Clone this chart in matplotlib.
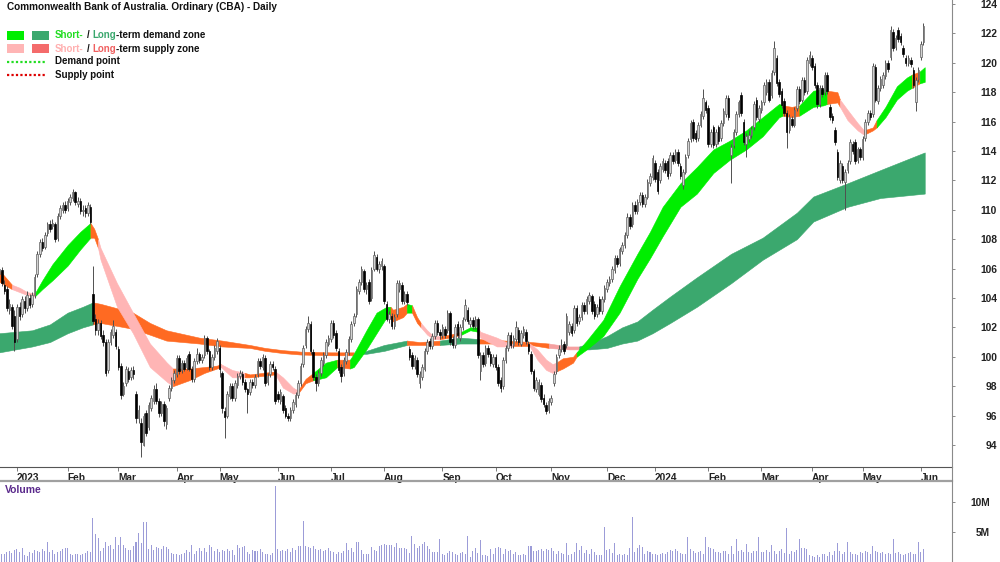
import numpy as np
import pandas as pd
import matplotlib
matplotlib.use("Agg")
import matplotlib.pyplot as plt
from matplotlib.lines import Line2D

plt.rcParams['font.family'] = ['Liberation Sans', 'DejaVu Sans']

# ---------------- data ----------------
title = "Commonwealth Bank of Australia. Ordinary (CBA) - Daily"
start_date, end_date = "2022-12-20", "2024-06-04"
asx_holidays = ["2022-12-26", "2022-12-27", "2023-01-02", "2023-01-26", "2023-04-07",
                "2023-04-10", "2023-04-25", "2023-06-12", "2023-12-25", "2023-12-26",
                "2024-01-01", "2024-01-26", "2024-03-29", "2024-04-01", "2024-04-25"]

opens = [105.6,105.9,104.9,104.6,103.2,103.4,102.8,101.2,103.4,102.9,
 103.8,103.3,104.0,103.6,104.2,105.6,107.0,107.8,107.5,108.4,
 109.0,108.9,109.0,108.1,109.6,110.0,110.3,110.1,110.5,110.8,
 111.2,110.4,110.6,109.9,110.1,109.8,110.2,104.3,102.6,101.8,
 102.3,101.5,101.0,99.1,101.0,101.5,101.7,100.5,99.4,97.5,
 98.2,99.0,98.6,99.1,97.5,95.8,95.5,94.0,96.2,95.2,
 96.5,97.0,97.8,97.0,96.2,96.8,95.4,97.2,97.9,98.4,
 98.8,99.9,99.1,99.6,99.3,100.2,99.2,98.5,99.7,100.2,
 99.8,100.1,101.3,100.4,99.3,100.0,100.4,100.6,98.9,96.3,
 96.0,97.3,98.0,97.2,98.1,98.7,98.8,98.3,97.8,97.6,
 98.3,98.1,98.8,99.7,99.3,99.9,98.3,98.8,99.5,99.2,
 97.5,97.0,97.3,96.5,96.0,95.8,96.4,96.8,97.4,98.2,
 99.5,100.8,101.9,102.2,100.3,98.6,98.2,98.9,99.6,100.1,
 100.9,101.2,102.3,101.6,100.4,99.3,98.9,99.7,100.3,101.2,
 102.3,102.9,104.5,105.1,105.8,104.6,105.1,104.0,106.0,106.8,
 106.0,106.2,106.2,103.6,102.6,102.8,102.1,102.9,104.6,104.9,
 103.8,104.3,100.5,100.1,99.4,99.8,98.2,98.6,99.2,100.4,
 101.1,100.7,101.4,102.3,101.7,101.5,101.9,101.8,103.0,101.2,
 100.8,102.2,101.3,102.0,102.6,103.2,102.2,102.5,102.1,102.6,
 99.0,100.1,99.6,100.6,100.2,99.5,100.0,99.3,98.4,98.0,
 99.8,100.6,101.5,100.8,101.2,101.8,100.9,101.5,101.7,100.9,
 100.2,99.0,97.8,97.5,98.1,97.2,96.7,96.4,96.9,98.2,
 99.0,100.1,100.5,100.9,100.8,101.7,102.1,101.8,103.3,102.4,
 102.7,103.5,103.1,103.8,104.1,103.6,102.9,103.9,103.1,103.9,
 104.6,105.0,105.3,105.9,106.7,106.4,107.2,107.6,108.3,109.5,
 109.0,110.3,109.9,110.5,111.0,110.4,110.9,111.8,112.2,113.2,
 112.6,112.0,112.8,113.2,113.3,112.5,113.7,113.4,113.9,113.0,
 111.7,112.6,113.7,114.8,116.0,115.2,114.9,115.8,116.4,117.3,
 116.9,114.5,115.6,114.5,115.6,114.9,115.9,116.5,117.6,113.7,
 114.4,115.3,116.5,117.8,116.0,114.5,114.8,115.1,115.6,117.5,
 116.2,116.8,117.3,118.0,118.7,117.8,119.4,120.3,118.7,118.1,
 117.4,116.6,115.4,116.2,115.8,116.9,118.2,117.5,118.8,118.1,
 120.0,120.3,119.8,118.5,117.2,118.3,118.0,119.2,117.0,116.4,
 115.4,113.9,112.0,113.0,111.9,112.7,113.3,114.5,114.6,113.4,
 114.1,113.6,114.9,116.0,116.6,116.5,119.7,117.4,118.3,118.5,
 119.1,120.0,120.4,122.1,121.1,122.2,121.8,121.0,120.3,120.0,
 120.2,119.5,117.3,118.9,120.4,121.4]

closes = [106.0,105.0,104.5,103.3,103.6,102.1,101.0,103.4,102.8,103.9,
 103.3,104.2,103.5,104.2,105.4,107.0,107.8,107.4,108.3,109.0,
 108.7,109.1,108.0,109.6,110.1,110.3,110.0,110.6,110.9,111.2,
 110.5,110.6,109.9,110.0,109.8,110.3,109.2,102.4,101.8,102.3,
 101.4,101.0,98.9,101.0,101.7,102.1,100.7,99.3,97.4,98.0,
 99.2,98.5,99.1,98.8,95.8,96.4,94.2,96.0,94.8,96.7,
 97.2,97.8,97.0,96.2,96.8,95.6,96.5,97.9,98.4,98.9,
 99.9,99.0,99.6,99.2,99.9,99.2,98.5,99.7,100.2,99.8,
 100.0,101.3,100.4,99.3,100.0,100.6,101.1,99.2,96.5,95.9,
 97.5,98.0,97.2,98.2,98.7,98.9,98.3,97.8,97.5,98.3,
 98.1,98.6,99.7,99.4,100.0,98.2,98.7,99.5,99.3,97.0,
 97.1,97.6,96.4,96.0,95.8,96.4,96.9,97.4,98.2,99.4,
 100.6,101.9,102.3,100.4,98.6,98.2,98.9,99.8,100.1,101.0,
 101.3,102.3,101.5,100.6,99.1,98.7,99.8,100.3,101.2,102.2,
 102.8,104.6,105.1,106.0,104.6,104.9,103.8,105.9,106.9,106.0,
 106.3,106.5,103.8,102.6,102.9,102.1,102.7,105.0,105.0,103.8,
 104.3,103.7,100.0,99.4,99.9,98.8,98.8,99.3,100.4,101.0,
 100.7,101.4,102.3,101.7,101.5,102.0,101.5,103.0,101.0,100.8,
 102.0,101.5,102.0,102.5,103.5,102.4,102.5,102.1,102.6,100.1,
 100.1,99.5,100.6,100.2,99.6,100.0,99.3,98.2,97.9,99.8,
 100.6,101.5,100.8,101.3,102.0,101.0,101.6,101.9,101.1,100.4,
 99.0,97.9,98.4,98.3,97.1,96.8,96.3,97.0,97.2,98.8,
 100.0,100.5,100.8,100.4,102.8,102.2,101.6,103.3,102.3,102.7,
 103.5,103.1,103.9,104.2,103.1,102.8,103.4,103.1,103.9,104.7,
 105.1,105.3,106.0,106.7,106.3,107.3,107.6,108.3,109.5,108.9,
 110.3,109.9,110.5,111.0,110.4,110.9,111.9,112.3,113.5,112.1,
 111.3,113.0,113.3,112.7,112.3,113.7,113.3,113.9,113.2,112.3,
 112.6,113.6,114.7,115.9,114.9,114.8,115.8,116.5,117.6,116.8,
 114.5,115.3,114.4,115.3,114.7,115.9,116.7,117.6,116.3,114.3,
 115.3,116.5,117.3,116.6,114.6,115.0,115.1,115.5,117.2,116.3,
 116.9,117.3,118.5,118.7,117.5,119.3,121.0,118.6,117.9,117.1,
 116.6,115.3,116.3,115.8,116.8,118.2,117.4,118.8,118.0,120.2,
 120.5,119.7,118.5,117.2,118.3,117.9,119.2,118.1,116.3,116.1,
 114.6,112.2,113.2,112.0,112.6,113.2,114.6,114.0,113.3,114.1,
 113.6,114.8,116.0,116.6,116.3,119.8,117.5,118.3,118.9,119.2,
 120.0,119.6,122.2,121.0,121.7,121.6,121.4,120.6,120.0,120.3,
 119.9,118.5,118.8,119.5,121.3,122.5]

highs = [106.3,106.1,105.2,104.8,103.9,103.6,103.2,103.6,103.7,104.1,
 104.1,104.5,104.3,104.4,105.6,107.2,108.0,108.1,108.5,109.2,
 109.3,109.4,109.2,109.8,110.3,110.5,110.6,110.8,111.1,111.4,
 111.3,110.9,110.8,110.3,110.3,110.5,110.4,106.2,102.9,102.6,
 102.5,101.8,101.2,101.2,101.9,102.5,101.9,100.7,99.6,98.3,
 99.4,99.3,99.3,99.4,97.7,96.7,95.8,96.2,96.4,96.9,
 97.4,98.1,98.2,97.2,97.0,97.0,96.7,98.1,98.6,99.1,
 100.1,100.1,99.8,99.8,100.1,100.4,99.4,99.9,100.6,100.3,
 100.2,101.5,101.4,100.5,100.2,100.8,101.3,100.8,99.0,96.6,
 97.7,98.2,98.2,98.4,98.9,99.1,99.0,98.5,97.9,98.5,
 98.5,98.8,99.9,99.9,100.2,100.1,98.9,99.7,99.7,99.4,
 97.7,97.8,97.5,96.7,96.2,96.6,97.1,97.6,98.4,99.6,
 100.8,102.1,102.8,102.4,100.5,98.8,99.1,100.0,100.3,101.2,
 101.5,102.5,102.5,101.8,100.6,99.5,100.0,100.5,101.4,102.4,
 103.0,104.8,105.3,106.2,106.0,105.1,105.3,106.1,107.2,107.0,
 106.5,106.7,106.3,103.8,103.1,103.0,102.9,105.2,105.2,105.1,
 104.5,104.5,100.7,100.3,100.1,100.0,99.0,99.5,100.6,101.2,
 101.3,101.6,102.5,102.5,101.9,102.2,102.1,103.2,103.1,101.4,
 102.2,102.4,102.2,102.7,103.9,103.4,102.7,102.7,102.8,102.7,
 100.3,100.3,100.8,100.8,100.4,100.2,100.2,99.5,98.6,100.0,
 100.8,101.7,101.7,101.5,102.4,102.0,101.8,102.1,101.9,101.1,
 100.4,99.2,98.6,98.5,98.3,97.5,96.9,97.2,97.4,99.0,
 100.2,100.8,101.2,101.1,103.0,102.4,102.3,103.5,103.5,102.9,
 103.7,103.7,104.1,104.4,104.3,103.8,103.6,104.1,104.1,104.9,
 105.3,105.5,106.2,106.9,106.9,107.5,107.8,108.5,109.8,109.7,
 110.5,110.6,110.7,111.2,111.2,111.1,112.1,112.5,113.7,113.4,
 112.8,113.2,113.5,113.4,113.5,113.9,113.9,114.1,114.1,113.2,
 112.8,113.8,114.9,116.1,116.2,115.4,116.0,116.7,118.2,117.5,
 117.1,115.5,115.8,115.5,115.8,116.1,116.9,117.8,117.8,114.5,
 115.5,116.7,117.5,118.0,116.2,115.2,115.4,115.7,117.4,117.7,
 117.1,117.5,118.7,118.9,118.9,119.5,121.5,120.5,118.9,118.3,
 117.6,116.8,116.5,116.4,117.0,118.4,118.4,119.0,119.0,120.4,
 120.8,120.5,120.0,118.7,118.5,118.5,119.4,119.4,117.2,116.6,
 115.6,114.1,113.4,113.2,112.8,113.4,114.8,114.7,114.8,114.3,
 114.3,115.0,116.2,116.8,116.8,120.0,119.9,118.5,119.1,119.4,
 120.2,120.2,122.5,122.3,121.9,122.4,122.0,121.2,120.5,120.5,
 120.4,119.7,119.0,119.7,121.5,122.7]

lows = [105.2,104.8,104.3,103.1,102.9,101.9,100.4,101.0,102.5,102.7,
 103.0,103.1,103.3,103.4,104.0,105.4,106.8,107.2,107.3,108.2,
 108.5,108.7,107.8,107.9,109.4,109.8,109.8,109.9,110.3,110.6,
 110.3,110.2,109.7,109.6,109.5,109.6,109.0,102.2,101.5,101.5,
 101.2,100.7,98.7,98.9,100.8,101.3,100.5,99.1,97.1,97.3,
 98.0,98.3,98.4,98.5,95.5,95.5,93.2,93.9,94.6,95.0,
 96.3,96.8,96.8,95.9,96.0,95.3,95.1,97.0,97.7,98.2,
 98.6,98.8,98.9,99.0,99.1,99.0,98.3,98.3,99.5,99.6,
 99.6,99.9,100.2,99.1,99.1,99.8,100.2,98.6,96.2,94.5,
 95.8,97.1,97.0,97.0,97.9,98.5,98.1,97.6,96.2,97.4,
 97.9,97.9,98.6,99.2,99.1,98.0,98.1,98.6,99.1,96.8,
 96.9,96.8,96.2,95.8,95.6,95.6,96.2,96.6,97.2,98.0,
 99.3,100.6,101.7,100.2,98.4,97.7,98.0,98.7,99.4,99.9,
 100.7,101.0,101.3,100.4,98.9,98.3,98.7,99.5,100.1,101.0,
 102.1,102.7,104.3,104.9,104.4,104.3,103.6,103.8,105.8,105.8,
 105.7,105.9,103.6,102.4,102.3,101.9,101.9,102.7,104.4,103.6,
 103.6,103.5,99.8,99.2,99.2,98.6,97.9,98.4,99.0,100.2,
 100.5,100.5,101.2,101.5,101.2,101.3,101.3,101.6,100.8,100.6,
 100.6,101.3,101.1,101.8,102.4,102.2,102.0,101.9,101.9,99.9,
 98.4,99.3,99.4,100.0,99.4,99.3,99.1,98.0,97.6,97.8,
 99.6,100.4,100.6,100.6,101.0,100.8,100.7,101.3,100.9,100.2,
 98.8,97.7,97.6,97.3,96.9,96.6,96.1,96.2,96.7,98.0,
 98.8,99.9,100.3,100.2,100.6,101.5,101.4,101.6,102.1,102.2,
 102.5,102.9,102.9,103.6,102.9,102.6,102.7,102.9,102.9,103.7,
 104.4,104.8,105.1,105.7,106.1,106.2,107.0,107.4,108.1,108.7,
 108.8,109.7,109.7,110.3,110.2,110.2,110.7,111.6,112.0,111.9,
 111.1,111.8,112.6,112.5,112.1,112.3,113.1,113.2,113.0,112.1,
 111.4,112.4,113.5,114.6,114.7,114.6,114.7,115.6,116.2,116.6,
 114.3,114.3,114.2,114.3,114.5,114.7,115.7,116.3,116.1,111.8,
 114.2,115.1,116.3,116.4,114.4,113.6,114.6,114.9,115.4,116.1,
 116.0,116.6,117.1,117.8,117.3,117.6,119.2,118.4,117.7,116.9,
 116.4,114.2,115.2,115.6,115.6,116.7,117.2,117.3,117.8,117.9,
 119.8,119.5,118.3,116.9,117.0,117.7,117.8,117.9,116.1,115.9,
 114.4,112.0,111.8,111.8,110.0,112.5,113.1,113.8,113.1,113.2,
 113.4,113.4,114.7,115.8,116.1,116.3,117.3,117.2,118.1,118.3,
 118.9,119.4,120.2,120.8,120.9,121.4,121.2,120.4,119.8,119.8,
 119.7,118.3,116.7,118.7,120.2,121.2]

volume_m = [2.0,1.3,1.4,1.6,1.9,1.5,2.0,2.1,1.6,2.3,
 1.1,1.0,1.7,1.5,2.0,1.9,1.6,2.2,1.8,3.3,
 1.6,2.0,1.4,1.7,1.9,2.1,2.3,2.4,1.3,1.2,
 1.3,1.4,1.2,1.3,1.5,1.8,1.6,7.3,4.7,4.0,
 1.8,2.3,3.3,2.6,2.9,2.2,4.2,2.9,4.1,2.9,
 2.3,2.0,2.0,2.6,3.3,4.8,3.1,6.7,6.6,2.1,
 2.8,2.0,2.5,2.3,2.1,2.6,2.5,2.1,1.5,1.3,
 1.4,1.2,1.3,1.5,2.0,1.6,2.9,1.3,1.8,2.4,
 1.9,2.3,1.6,2.8,2.5,1.8,2.2,1.7,2.0,1.9,
 2.1,1.8,2.0,1.2,2.8,2.4,2.5,2.6,1.7,1.3,
 2.0,1.8,1.9,2.2,1.6,1.4,1.3,1.2,1.5,12.7,
 2.1,1.8,2.0,1.9,2.2,1.7,2.3,2.0,2.6,2.6,
 6.8,2.6,2.5,2.4,2.6,2.1,2.0,2.2,1.9,2.0,
 2.3,1.8,1.6,1.4,1.7,1.5,1.9,3.1,2.0,2.3,
 1.6,3.4,3.4,2.0,1.4,1.3,1.4,2.5,2.0,1.8,
 2.6,2.8,3.0,2.9,2.8,2.8,2.5,3.1,2.4,2.3,
 2.4,2.2,1.5,4.4,3.0,2.4,2.7,3.0,3.3,2.6,
 2.2,1.6,1.6,1.7,3.8,1.4,1.2,1.5,1.9,1.7,
 1.3,1.2,1.5,1.6,1.4,4.3,0.8,1.8,2.4,1.5,
 3.6,1.1,1.1,1.0,2.2,1.3,2.4,2.5,2.3,1.3,
 2.2,1.8,2.0,1.4,1.6,1.2,1.1,1.4,1.2,2.6,
 2.6,1.9,1.8,2.0,2.1,1.9,2.2,2.0,2.4,1.8,
 1.3,1.9,1.5,1.4,3.2,1.2,1.3,1.6,3.2,2.0,
 2.7,1.5,2.0,1.4,2.2,1.6,1.1,1.2,1.2,5.8,
 2.0,2.1,1.5,3.1,1.2,1.3,1.1,1.3,1.2,2.4,
 7.5,1.6,2.3,2.8,2.5,1.4,1.8,1.6,1.3,1.4,
 1.2,1.3,1.5,1.4,1.6,2.0,1.9,2.1,1.8,1.5,
 1.3,1.4,4.1,2.2,1.9,1.5,1.6,1.8,1.3,4.2,
 2.5,2.4,2.2,1.6,1.7,1.5,1.8,1.9,1.4,2.6,
 1.4,3.9,1.8,2.0,1.7,3.0,1.6,1.5,1.9,1.8,
 4.1,1.6,1.7,2.0,1.6,2.9,1.8,1.4,1.9,2.2,
 1.5,5.6,1.4,1.8,1.7,2.0,3.9,2.3,2.4,2.2,
 1.2,1.0,0.9,1.1,0.8,1.4,1.3,1.0,1.6,1.2,
 1.8,3.1,1.9,1.4,1.7,3.4,1.6,1.4,1.3,1.2,
 1.6,1.5,1.8,1.6,1.3,2.6,1.9,1.7,1.5,1.6,
 1.4,1.5,1.3,3.8,1.5,1.6,1.3,1.2,1.4,1.5,
 1.7,1.3,1.4,3.4,1.7,2.2]

# short-term zone (edges at trading-day positions) and state of each segment
short_x = [0, 3, 5, 8, 11, 14, 17, 21, 27, 32, 36, 37.5, 39, 40, 46.5, 52.8, 59.5, 66.2,
           68.6, 75, 81, 86, 87.5, 92, 97, 99, 104, 109, 112, 116, 118, 121, 124, 129,
           133.5, 138.5, 140, 145, 149, 153, 154.5, 155.5, 159.5, 161, 163, 165, 166.5,
           169, 171.5, 174, 178, 182.5, 186, 189, 190, 196.5, 201.5, 203, 209.5, 212.5,
           216, 218.5, 220, 222.6, 226.6, 228, 232, 238.5, 245, 252, 257, 262, 269, 275.5,
           282, 288.5, 295, 301.5, 308, 309.5, 313, 316, 321.5, 325.5, 327, 331, 332, 335,
           339, 341.5, 345, 346.5, 350, 354.5, 358.5, 360.5, 363.5, 365.5]
short_hi = [105.9, 105.3, 104.9, 104.7, 104.4, 104.3, 105.2, 106.3, 107.6, 108.5, 109.1, 108.7,
            108.0, 107.4, 105.0, 103.0, 100.9, 99.6, 99.2, 99.2, 99.3, 99.4, 99.5, 99.1, 98.9,
            98.8, 98.9, 99.0, 98.6, 97.9, 97.7, 98.5, 98.9, 99.6, 99.8, 99.8, 100.2, 101.8,
            103.0, 103.4, 103.4, 103.2, 103.4, 103.6, 103.5, 102.7, 102.3, 101.8, 101.4,
            101.4, 101.5, 101.7, 102.0, 102.0, 101.7, 101.3, 100.9, 100.9, 100.9, 100.5,
            99.8, 99.5, 99.6, 99.9, 100.0, 100.3, 101.1, 102.5, 104.8, 107.0, 108.5, 110.2,
            111.8, 112.9, 114.1, 114.7, 115.4, 116.3, 117.2, 117.1, 117.0, 117.1, 118.1,
            118.2, 118.1, 118.0, 117.5, 116.8, 115.9, 115.4, 115.6, 116.1, 117.0, 118.4,
            119.0, 119.2, 119.4, 119.7]
short_lo = [105.1, 104.8, 104.6, 104.4, 104.2, 104.1, 104.6, 105.2, 106.2, 107.3, 108.1, 108.1,
            107.4, 106.6, 103.4, 101.6, 99.3, 98.3, 98.0, 98.4, 98.9, 99.2, 99.3, 98.6, 98.6,
            98.6, 98.7, 98.8, 97.9, 97.5, 97.5, 98.2, 98.4, 98.6, 99.3, 99.2, 99.3, 100.5,
            101.6, 102.7, 102.6, 102.4, 102.7, 103.0, 103.0, 102.3, 102.0, 101.5, 101.2,
            101.2, 101.3, 101.5, 101.8, 101.7, 101.3, 100.7, 100.7, 100.7, 100.7, 99.8,
            99.1, 98.9, 99.0, 99.2, 99.6, 100.0, 100.5, 101.4, 103.0, 105.3, 106.7, 108.2,
            110.2, 111.1, 112.5, 113.4, 114.1, 115.0, 116.3, 116.4, 116.3, 116.4, 117.0,
            117.1, 117.2, 117.3, 117.0, 116.1, 115.4, 115.1, 115.4, 115.6, 116.3, 117.5,
            118.1, 118.3, 118.6, 118.7]
short_state = ("OO" "PPP" "GGGGG" "OO" "PPPPPP" "OOOO" "PP" "OOO" "PPP" "OO" "GG" "O"
               "GGGGG" "OOO" "G" "OO" "PPP" "OO" "GG" "PPPP" "O" "PPPP" "OOO"
               "GGGGGGGGGGGGGG" "OO" "GGG" "OO" "PPP" "OO" "GGGG" "O" "GG")

# long-term zone
long_x = [0, 13, 20, 27, 33, 37, 40, 46.5, 52.8, 59.5, 66, 79, 88, 99, 105, 112, 119, 131,
          140, 143, 145, 152, 161, 166, 174, 182, 189.5, 200, 210, 217, 225, 229, 233, 240,
          246, 252, 258, 265, 275.5, 289, 301.5, 315, 321.5, 335, 348, 365.5]
long_hi = [101.6, 101.8, 102.2, 103.0, 103.4, 103.7, 103.6, 103.3, 103.0, 102.3, 101.8, 101.3,
           101.1, 100.8, 100.6, 100.45, 100.35, 100.3, 100.3, 100.3, 100.4, 100.8, 101.1,
           101.0, 101.1, 101.3, 101.2, 101.1, 101.0, 100.9, 100.7, 100.7, 100.9, 101.4,
           102.0, 102.4, 103.2, 104.1, 105.4, 107.0, 108.1, 109.8, 110.9, 111.8, 112.7, 113.9]
long_lo = [100.3, 100.7, 101.0, 101.6, 102.0, 102.2, 102.3, 102.1, 101.9, 101.5, 101.1, 100.9,
           100.7, 100.6, 100.4, 100.25, 100.15, 100.1, 100.1, 100.2, 100.2, 100.4, 100.8,
           100.8, 100.8, 100.9, 100.9, 100.9, 100.8, 100.6, 100.5, 100.5, 100.5, 100.6,
           100.9, 101.1, 101.6, 102.3, 103.4, 105.0, 106.6, 108.0, 109.2, 110.2, 110.8, 111.1]
long_state = ("GGGGG" "OOOOOOOOOOOOO" "P" "GGG" "OO" "GG" "OOO" "PP" "GGGGGGGGGGGGGGG")

price_ticks = list(range(94, 125, 2))
vol_ticks_m = [5, 10]
vol_tick_labels = ["5M", "10M"]

# ---------------- styling ----------------
W, H = 1000, 562
C_SHORT = {"G": "#00EE00", "P": "#FFB5B5", "O": "#FF6A22"}
C_LONG = {"G": "#3BA86E", "P": "#F5A0A0", "O": "#FF6A22"}

dates = pd.bdate_range(start_date, end_date, freq="C", holidays=asx_holidays)
n = min(len(dates), len(opens), len(closes), len(highs), len(lows), len(volume_m))
dates = dates[:n]
x = np.arange(n)
o = np.array(opens[:n]); c = np.array(closes[:n])
hi = np.array(highs[:n]); lo = np.array(lows[:n])
vol = np.array(volume_m[:n]) * 1e6

fig = plt.figure(figsize=(W / 100, H / 100), dpi=100)
ax = fig.add_axes([0, (H - 467) / H, 952 / W, 467 / H])
axv = fig.add_axes([0, 0, 952 / W, (H - 482) / H])

x0, x1 = 0.29, 376.27
ax.set_xlim(x0, x1)
axv.set_xlim(x0, x1)
ax.set_ylim(92.5, 124.27)
axv.set_ylim(0, 13.33e6)


def draw_zone(axis, xs, his, los, states, colors, z):
    m = min(len(xs), len(his), len(los))
    k = 0
    while k < m - 1:
        s = states[k] if k < len(states) else states[-1]
        j = k
        while j < m - 1 and (states[j] if j < len(states) else states[-1]) == s:
            j += 1
        axis.fill_between(xs[k:j + 1], los[k:j + 1], his[k:j + 1], color=colors[s],
                          linewidth=0.4, edgecolor=colors[s], zorder=z)
        k = j


draw_zone(ax, long_x, long_hi, long_lo, long_state, C_LONG, 1)
draw_zone(ax, short_x, short_hi, short_lo, short_state, C_SHORT, 2)

# candles
up = c >= o
ax.vlines(x, lo, hi, color="#505050", linewidth=0.7, zorder=3)
body_lo = np.minimum(o, c)
body_h = np.maximum(np.abs(c - o), 0.06)
ax.bar(x[up], body_h[up], bottom=body_lo[up], width=0.6, color="#D2D2D2",
       edgecolor="#606060", linewidth=0.5, zorder=4)
ax.bar(x[~up], body_h[~up], bottom=body_lo[~up], width=0.6, color="#000000",
       edgecolor="#000000", linewidth=0.5, zorder=4)

# volume
axv.bar(x, vol, width=0.4, color="#9C9CD8", linewidth=0)

# month ticks
month_pos, month_lab = [], []
for i in range(1, n):
    if dates[i].month != dates[i - 1].month:
        month_pos.append(i)
        month_lab.append(str(dates[i].year) if dates[i].month == 1 else dates[i].strftime("%b"))
ax.set_xticks(month_pos)
ax.set_xticklabels(month_lab, fontsize=7.3, fontweight="bold", color="#222222", ha="left")
ax.tick_params(axis="x", direction="out", length=3, width=0.6, color="#666666", pad=1)

# price axis on right
ax.yaxis.tick_right()
ax.set_yticks(price_ticks)
ax.set_yticklabels([str(t) for t in price_ticks], fontsize=7.4, fontweight="bold",
                   color="#222222", ha="right")
ax.tick_params(axis="y", direction="out", length=2.5, width=0.6, color="#777777", pad=29.9)

axv.yaxis.tick_right()
axv.set_yticks([v * 1e6 for v in vol_ticks_m])
axv.set_yticklabels(vol_tick_labels, fontsize=7.4, fontweight="bold", color="#222222", ha="right")
axv.tick_params(axis="y", direction="out", length=2.5, width=0.6, color="#777777", pad=24.9)
axv.set_xticks([])

for a in (ax, axv):
    for s in ("left", "top", "right"):
        a.spines[s].set_visible(False)
    a.set_facecolor("none")
ax.spines["bottom"].set_color("#555555")
ax.spines["bottom"].set_linewidth(0.8)
axv.spines["bottom"].set_visible(False)

# separator line and right border
fig.add_artist(Line2D([0, 952 / W], [1 - 481 / H] * 2, color="#A0A0A0", linewidth=1.6))
fig.add_artist(Line2D([952 / W] * 2, [0, 1], color="#8A8A8A", linewidth=0.8))

# title and legend
fig.text(7 / W, 1 - 7 / H, title, fontsize=7.2, fontweight="bold", color="#111111",
         ha="left", va="center")
fig.text(5 / W, 1 - 490 / H, "Volume", fontsize=7.5, fontweight="bold", color="#5B2A8C",
         ha="left", va="center")

renderer = fig.canvas.get_renderer()


def seq_text(x_px, y_px, parts, size=7.0):
    xx = x_px
    for s, col, gap in parts:
        t = fig.text(xx / W, 1 - y_px / H, s, color=col, fontsize=size, fontweight="bold",
                     ha="left", va="center", zorder=10)
        xx += t.get_window_extent(renderer).width + gap


def swatch(x_px, y_px, w_px, h_px, col):
    fig.add_artist(plt.Rectangle((x_px / W, 1 - (y_px + h_px) / H), w_px / W, h_px / H,
                                 facecolor=col, edgecolor="none", transform=fig.transFigure))


swatch(7, 31, 17, 9, "#00EE00")
swatch(32, 31, 17, 9, "#3BA86E")
swatch(7, 44, 17, 9, "#FFB5B5")
swatch(32, 44, 17, 9, "#F46B6B")
seq_text(55, 35.5, [("Short-", "#22DD22", 3), ("/", "#111111", 3), ("Long", "#3BA86E", 0),
                    ("-term demand zone", "#111111", 0)])
seq_text(55, 48.5, [("Short-", "#FFB0B0", 3), ("/", "#111111", 3), ("Long", "#F06060", 0),
                    ("-term supply zone", "#111111", 0)])
fig.add_artist(Line2D([7 / W, 47 / W], [1 - 62 / H] * 2, color="#22DD22", linewidth=1.6,
                      linestyle=(0, (1, 1))))
fig.add_artist(Line2D([7 / W, 47 / W], [1 - 75 / H] * 2, color="#DD0000", linewidth=1.6,
                      linestyle=(0, (1, 1))))
fig.text(55 / W, 1 - 61.5 / H, "Demand point", fontsize=7.0, fontweight="bold",
         color="#111111", ha="left", va="center")
fig.text(55 / W, 1 - 74.5 / H, "Supply point", fontsize=7.0, fontweight="bold",
         color="#111111", ha="left", va="center")

fig.savefig("out.png", dpi=100)
